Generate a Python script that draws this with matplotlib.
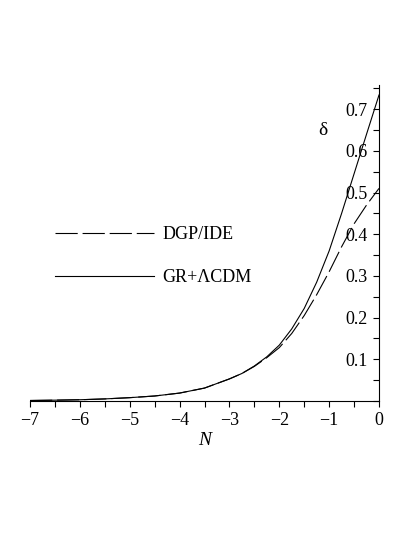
import numpy as np
import matplotlib
matplotlib.use("Agg")
import matplotlib.pyplot as plt
from matplotlib.ticker import MultipleLocator

plt.rcParams['font.family'] = ['Liberation Serif', 'DejaVu Serif']
plt.rcParams['lines.scale_dashes'] = False

# values (e-folds N vs growth delta)
N = [-7, -6.5, -6, -5.5, -5, -4.5, -4, -3.5, -3, -2.75, -2.5, -2.25, -2,
     -1.75, -1.5, -1.25, -1, -0.75, -0.5, -0.25, 0]
delta_gr = [0.0012, 0.002, 0.003, 0.005, 0.008, 0.012, 0.019, 0.031, 0.053,
            0.066, 0.084, 0.106, 0.134, 0.173, 0.222, 0.285, 0.36, 0.45,
            0.545, 0.64, 0.734]
delta_dgp = [0.0012, 0.002, 0.003, 0.005, 0.008, 0.012, 0.019, 0.031, 0.053,
             0.066, 0.083, 0.104, 0.128, 0.162, 0.205, 0.255, 0.31, 0.37,
             0.425, 0.47, 0.51]
labels = ["DGP/IDE", "GR+ΛCDM"]
xticks = [-7, -6, -5, -4, -3, -2, -1, 0]
yticks = [0.1, 0.2, 0.3, 0.4, 0.5, 0.6, 0.7]

fig = plt.figure(figsize=(4.15, 5.37), dpi=100)
ax = fig.add_axes([30/415, 1 - 401/537, 349/415, 316/537])

l1, = ax.plot(N, delta_dgp, color='black', lw=0.8, dashes=(16, 3.5), label=labels[0])
l2, = ax.plot(N, delta_gr, color='black', lw=0.8, label=labels[1])

ax.set_xlim(-7, 0)
ax.set_ylim(0, 0.758)
for s in ['top', 'left']:
    ax.spines[s].set_visible(False)
ax.spines['bottom'].set_linewidth(0.8)
ax.spines['right'].set_linewidth(0.8)

ax.set_xticks(xticks)
ax.xaxis.set_minor_locator(MultipleLocator(0.5))
ax.set_yticks(yticks)
ax.yaxis.set_minor_locator(MultipleLocator(0.05))
ax.tick_params(axis='x', which='both', direction='out', length=4, width=0.8,
               labelsize=13, pad=4)
ax.tick_params(axis='y', which='both', left=False, labelleft=False, right=True,
               labelright=True, direction='in', length=4, width=0.8,
               labelsize=13, pad=-8)
for t in ax.get_yticklabels():
    t.set_horizontalalignment('right')

ax.set_xlabel("N", fontsize=14, style='italic', labelpad=2)
ax.text(-1.12, 0.65, "δ", fontsize=14, ha='center', va='center')

ax.legend(handles=[l1, l2], loc='upper left', frameon=False, fontsize=13,
          bbox_to_anchor=(55/415, 1 - 226/537), bbox_transform=fig.transFigure,
          borderaxespad=0, borderpad=0, handlelength=5.5, handletextpad=0.45,
          labelspacing=1.45)

fig.savefig("out.png", dpi=100)
